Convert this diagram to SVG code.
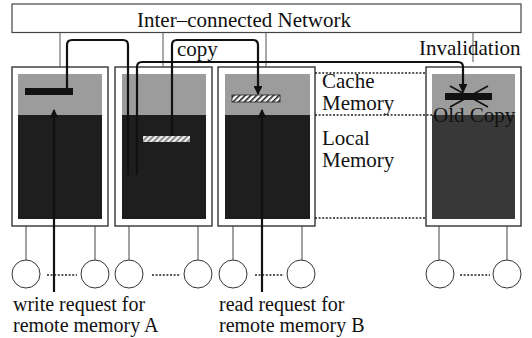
<svg xmlns="http://www.w3.org/2000/svg" width="532" height="338" viewBox="0 0 532 338">
  <style>
    text { font-family: "Liberation Serif", "Times New Roman", "DejaVu Serif", serif; font-size: 21px; fill: #111; }
    text.small { font-size: 20px; }
    .frame { fill: #fff; stroke: #333; stroke-width: 1.4; }
    .cache { fill: #9c9c9c; }
    .local { fill: #1e1e1e; }
    .tap { stroke: #555; stroke-width: 1; fill: none; }
    .wire { stroke: #111; stroke-width: 2.2; fill: none; }
    .dots { stroke: #222; stroke-width: 1.6; stroke-dasharray: 2 1.6; fill: none; }
    .pe { fill: #fff; stroke: #333; stroke-width: 1; }
    .leg { stroke: #444; stroke-width: 1; }
  </style>
  <defs>
    <pattern id="hatch" width="4" height="4" patternUnits="userSpaceOnUse" patternTransform="rotate(45)">
      <rect width="4" height="4" fill="#fff"/>
      <rect width="1.6" height="4" fill="#222"/>
    </pattern>
    <pattern id="hatchLight" width="4" height="4" patternUnits="userSpaceOnUse" patternTransform="rotate(45)">
      <rect width="4" height="4" fill="#eee"/>
      <rect width="1.6" height="4" fill="#777"/>
    </pattern>
    <marker id="head" viewBox="0 0 10 10" refX="9" refY="5" markerWidth="4" markerHeight="4" orient="auto">
      <path d="M0,0 L10,5 L0,10 z" fill="#111"/>
    </marker>
  </defs>

  <!-- interconnection network -->
  <g id="network">
    <rect x="12" y="4" width="509" height="28.5" fill="#fff" stroke="#444" stroke-width="1.2"/>
    <text x="137" y="27">Inter–connected Network</text>
  </g>

  <!-- processing nodes: frame, cache memory (top), local memory (bottom) -->
  <g id="node1">
    <rect class="frame" x="12" y="67" width="96" height="159"/>
    <rect class="cache" x="18" y="74" width="84" height="41"/>
    <rect class="local" x="18" y="115" width="84" height="104"/>
    <rect x="25" y="88" width="48" height="7" fill="#111"/>
  </g>
  <g id="node2">
    <rect class="frame" x="115" y="67" width="97" height="159"/>
    <rect class="cache" x="122" y="74" width="84" height="41"/>
    <rect class="local" x="122" y="115" width="84" height="104"/>
    <rect x="143" y="136" width="47" height="6" fill="url(#hatchLight)"/>
  </g>
  <g id="node3">
    <rect class="frame" x="218" y="67" width="97" height="159"/>
    <rect class="cache" x="225" y="74" width="85" height="41"/>
    <rect class="local" x="225" y="115" width="85" height="104"/>
    <rect x="232" y="95" width="48" height="7" fill="url(#hatch)" stroke="#222" stroke-width="0.8"/>
  </g>
  <g id="node4">
    <rect class="frame" x="426" y="67" width="95" height="159"/>
    <rect class="cache" x="432" y="74" width="83" height="41"/>
    <rect x="432" y="115" width="83" height="104" fill="#383838"/>
    <rect x="445" y="93" width="47" height="7" fill="#111"/>
    <line x1="450" y1="86" x2="488" y2="107" stroke="#111" stroke-width="1.6"/>
    <line x1="450" y1="107" x2="488" y2="86" stroke="#111" stroke-width="1.6"/>
    <text x="433" y="122">Old Copy</text>
  </g>

  <!-- memory-level guides between node 3 and node 4 -->
  <g id="guides">
    <line class="dots" x1="315" y1="73" x2="426" y2="73"/>
    <line class="dots" x1="315" y1="115" x2="432" y2="115"/>
    <line class="dots" x1="315" y1="218" x2="426" y2="218"/>
    <text x="322" y="88">Cache</text>
    <text x="322" y="110">Memory</text>
    <text x="322" y="145">Local</text>
    <text x="322" y="167">Memory</text>
  </g>

  <!-- processors attached to each node -->
  <g id="processors">
    <line class="leg" x1="26" y1="226" x2="26" y2="260"/>
    <line class="leg" x1="95" y1="226" x2="95" y2="260"/>
    <line class="leg" x1="129" y1="226" x2="129" y2="260"/>
    <line class="leg" x1="198" y1="226" x2="198" y2="260"/>
    <line class="leg" x1="233" y1="226" x2="233" y2="260"/>
    <line class="leg" x1="302" y1="226" x2="302" y2="260"/>
    <line class="leg" x1="439" y1="226" x2="439" y2="260"/>
    <line class="leg" x1="507" y1="226" x2="507" y2="260"/>
    <circle class="pe" cx="26" cy="274" r="14"/>
    <circle class="pe" cx="95" cy="274" r="14"/>
    <circle class="pe" cx="129" cy="274" r="14"/>
    <circle class="pe" cx="198" cy="274" r="14"/>
    <circle class="pe" cx="233" cy="274" r="14"/>
    <circle class="pe" cx="301" cy="274" r="14"/>
    <circle class="pe" cx="440" cy="274" r="14"/>
    <circle class="pe" cx="507" cy="274" r="14"/>
    <line class="dots" x1="47" y1="275" x2="77" y2="275"/>
    <line class="dots" x1="152" y1="275" x2="180" y2="275"/>
    <line class="dots" x1="255" y1="275" x2="284" y2="275"/>
    <line class="dots" x1="460" y1="275" x2="490" y2="275"/>
  </g>

  <!-- connectors -->
  <g id="connectors">
    <!-- node taps onto the network -->
    <line class="tap" x1="60" y1="32.5" x2="60" y2="67"/>
    <line class="tap" x1="163" y1="32.5" x2="163" y2="67"/>
    <line class="tap" x1="266" y1="32.5" x2="266" y2="67"/>
    <line class="tap" x1="473" y1="32.5" x2="473" y2="62"/>
    <!-- write request: node 1 -> node 2 -->
    <path class="wire" d="M67,88 V45 Q67,40 72,40 H123 Q128,40 128,45 V175"/>
    <!-- copy: node 2 -> node 3 -->
    <path class="wire" d="M172,136 V45 Q172,40 177,40 H253 Q258,40 258,45 V94" marker-end="url(#head)"/>
    <!-- invalidation: node 2 -> node 4 -->
    <path class="wire" d="M137,175 V67 Q137,62 142,62 H458 Q463,62 463,67 V92" marker-end="url(#head)"/>
    <!-- processor requests into node 1 and node 3 -->
    <path class="wire" d="M54,292 V110" marker-end="url(#head)"/>
    <path class="wire" d="M262,292 V110" marker-end="url(#head)"/>
  </g>

  <!-- annotations -->
  <g id="labels">
    <text x="177" y="56">copy</text>
    <text x="419" y="55">Invalidation</text>
    <text class="small" x="13" y="311">write request for</text>
    <text class="small" x="13" y="332">remote memory A</text>
    <text class="small" x="219" y="311">read request for</text>
    <text class="small" x="219" y="332">remote memory B</text>
  </g>
</svg>
